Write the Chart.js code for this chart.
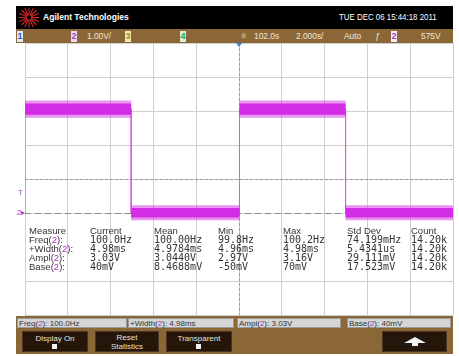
<!DOCTYPE html>
<html><head><meta charset="utf-8">
<script src="https://cdn.jsdelivr.net/npm/chart.js@4.4.0/dist/chart.umd.min.js"></script>
<style>
html,body{margin:0;padding:0;background:#fff;width:459px;height:356px;overflow:hidden;}
#wrap{position:relative;width:459px;height:356px;font-family:"Liberation Sans",Arial,sans-serif;}
#c{position:absolute;left:0;top:0;}
.a{position:absolute;white-space:nowrap;}
.blk{position:absolute;}
.bar{color:#f2e8d4;font-size:9.5px;line-height:12px;top:30px;transform-origin:left center;transform:scaleX(0.88);}
.chb{position:absolute;top:31px;width:6px;height:11px;font-size:9px;line-height:11px;text-align:center;font-weight:bold;}
.hd{font-size:9.5px;line-height:10px;color:#333;}
.mv{font-family:"DejaVu Sans Mono",monospace;font-size:10px;line-height:10px;color:#333;}
.p{color:#b02cc8;}
.box{position:absolute;top:318px;height:10px;background:#d6d6d6;border:1px solid #9a9a9a;font-size:8px;line-height:10px;color:#333;padding-left:1px;box-sizing:border-box;}
.btn{position:absolute;top:331px;height:21px;background:#24160a;border:1px solid #4a3520;box-sizing:border-box;color:#e6e2dc;font-size:8px;line-height:8px;text-align:center;}
.ck{position:absolute;width:5px;height:5px;background:#f4f4f4;left:50%;margin-left:-3px;top:12px;}
</style></head><body>
<div id="wrap">
<canvas id="c" width="459" height="356"></canvas>

<!-- header -->
<div class="blk" style="left:16px;top:6px;width:437px;height:23px;background:#000;"></div>
<svg class="blk" style="left:18px;top:7px" width="22" height="21" viewBox="0 0 22 21">
 <g stroke="#d8262a" stroke-width="1.1" stroke-linecap="round">
  <line x1="11" y1="1" x2="11" y2="20"/><line x1="1" y1="10.5" x2="21" y2="10.5"/>
  <line x1="4" y1="3.5" x2="18" y2="17.5"/><line x1="18" y1="3.5" x2="4" y2="17.5"/>
  <line x1="7" y1="1.5" x2="15" y2="19.5"/><line x1="15" y1="1.5" x2="7" y2="19.5"/>
  <line x1="1.5" y1="6.5" x2="20.5" y2="14.5"/><line x1="1.5" y1="14.5" x2="20.5" y2="6.5"/>
 </g>
 <circle cx="11" cy="10.5" r="2.2" fill="#000"/>
</svg>
<div class="a" style="left:43px;top:11px;color:#fff;font-weight:bold;font-size:9.5px;line-height:12px;transform-origin:left center;transform:scaleX(0.9);">Agilent Technologies</div>
<div class="a" style="left:339px;top:11px;color:#fff;font-size:9.5px;line-height:12px;transform-origin:left center;transform:scaleX(0.83);">TUE DEC 06 15:44:18 2011</div>

<!-- top brown bar -->
<div class="blk" style="left:16px;top:29px;width:437px;height:14px;background:#8b6738;"></div>
<div class="chb" style="left:17px;background:#e2e8f4;color:#3b5cb0;">1</div>
<div class="chb" style="left:71px;background:#eadcf2;color:#a83cc8;">2</div>
<div class="a bar" style="left:87px;">1.00V/</div>
<div class="chb" style="left:125px;background:#f2ecbc;color:#a08a20;">3</div>
<div class="chb" style="left:180px;background:#d8f0d4;color:#34a050;">4</div>
<div class="a bar" style="left:240px;font-family:'DejaVu Sans';font-size:9px;">☼</div>
<div class="a bar" style="left:254px;">102.0s</div>
<div class="a bar" style="left:296px;">2.000s/</div>
<div class="a bar" style="left:344px;">Auto</div>
<div class="a bar" style="left:375px;font-style:italic;">ƒ</div>
<div class="chb" style="left:391px;background:#f4f0f6;color:#a83cc8;">2</div>
<div class="a bar" style="left:421px;">575V</div>

<!-- left markers -->
<div class="a" style="left:18px;top:188px;font-size:8px;line-height:9px;color:#a050b8;">T</div>
<div class="a" style="left:17px;top:208px;font-size:8px;line-height:9px;color:#b030c8;">2▸</div>

<!-- measurement table -->
<div id="tbl"></div>

<!-- bottom -->
<div class="blk" style="left:16px;top:316px;width:437px;height:38px;background:#8b6738;"></div>
<div id="boxes"></div>
<div class="btn" style="left:22px;width:66px;"><div style="margin-top:3px">Display On</div><div class="ck"></div></div>
<div class="btn" style="left:95px;width:64px;"><div style="margin-top:2px">Reset</div><div style="margin-top:1px">Statistics</div></div>
<div class="btn" style="left:166px;width:66px;"><div style="margin-top:3px">Transparent</div><div class="ck"></div></div>
<div class="btn" style="left:382px;width:65px;">
 <svg width="26" height="10" style="margin-top:5px" viewBox="0 0 26 10"><polygon points="13,0 24,6 16,6 16,9 10,9 10,6 2,6" fill="#f4f4f4"/></svg>
</div>
</div>

<script>
// ---- waveform data (time in ms relative to trigger, volts) ----
const traceTime  = [-10, -10, -5.04, -5.04, 0.02, 0.02, 4.98, 4.98, 10];
const traceVolts = [0.0, 3.06, 3.06, 0.0, 0.0, 3.06, 3.06, 0.0, 0.0];
const bandTime   = [-10, -5.04, -5.04, 0.02, 0.02, 4.98, 4.98, 10];
const haloUpper  = [3.31, 3.31, 0.23, 0.23, 3.31, 3.31, 0.23, 0.23];
const haloLower  = [2.80, 2.80, -0.21, -0.21, 2.80, 2.80, -0.21, -0.21];
const coreUpper  = [3.22, 3.22, 0.15, 0.15, 3.22, 3.22, 0.15, 0.15];
const coreLower  = [2.89, 2.89, -0.13, -0.13, 2.89, 2.89, -0.13, -0.13];
// ---- screen scales ----
const timeRange = [-10, 10];   // 2 ms/div, 10 divisions
const voltRange = [-3, 5];     // 1 V/div, 8 divisions
const groundLevel = 0;
const centerVolt = 1;
// ---- measurement table ----
const measHeaders = ['Measure','Current','Mean','Min','Max','Std Dev','Count'];
const measNames   = ['Freq','+Width','Ampl','Base'];
const measCurrent = ['100.0Hz','4.98ms','3.03V','40mV'];
const measMean    = ['100.00Hz','4.9784ms','3.0440V','8.4688mV'];
const measMin     = ['99.8Hz','4.96ms','2.97V','-50mV'];
const measMax     = ['100.2Hz','4.98ms','3.16V','70mV'];
const measStd     = ['74.199mHz','5.4341us','29.111mV','17.523mV'];
const measCount   = ['14.20k','14.20k','14.20k','14.20k'];
const bottomBoxes = [['Freq','100.0Hz'],['+Width','4.98ms'],['Ampl','3.03V'],['Base','40mV']];

// build table
(function(){
  const cols = [29, 90, 154, 218, 283, 347, 411];
  const rowY = [226, 235, 244, 253, 262];
  let h = '';
  measHeaders.forEach((t,i)=>{ h += `<div class="a hd" style="left:${cols[i]}px;top:${rowY[0]}px">${t}</div>`; });
  const valCols = [measCurrent, measMean, measMin, measMax, measStd, measCount];
  measNames.forEach((n,r)=>{
    h += `<div class="a hd" style="left:${cols[0]}px;top:${rowY[r+1]}px">${n}(<span class="p">2</span>):</div>`;
    valCols.forEach((arr,c)=>{ h += `<div class="a mv" style="left:${cols[c+1]}px;top:${rowY[r+1]}px">${arr[r]}</div>`; });
  });
  document.getElementById('tbl').innerHTML = h;
  const bx = [[17,110],[128,106],[237,104],[347,104]];
  let b = '';
  bottomBoxes.forEach((d,i)=>{ b += `<div class="box" style="left:${bx[i][0]}px;width:${bx[i][1]}px">${d[0]}(<span class="p">2</span>): ${d[1]}</div>`; });
  document.getElementById('boxes').innerHTML = b;
})();

const pts = (xs, ys) => xs.map((x,i)=>({x, y: ys[i]}));

const scopeMarks = {
  id: 'scopeMarks',
  beforeDatasetsDraw(chart){
    const {ctx, chartArea:a, scales:{x, y}} = chart;
    ctx.save();
    // center graticule lines
    ctx.strokeStyle = '#9c9c9c'; ctx.lineWidth = 1; ctx.setLineDash([3,2]);
    const yc = Math.round(y.getPixelForValue(centerVolt)) + 0.5;
    ctx.beginPath(); ctx.moveTo(a.left, yc); ctx.lineTo(a.right, yc); ctx.stroke();
    const xc = Math.round(x.getPixelForValue(0)) + 0.5;
    ctx.beginPath(); ctx.moveTo(xc, a.top); ctx.lineTo(xc, a.bottom); ctx.stroke();
    // ground reference line
    ctx.strokeStyle = '#7f8f80'; ctx.setLineDash([6,4]);
    const yg = Math.round(y.getPixelForValue(groundLevel)) + 0.5;
    ctx.beginPath(); ctx.moveTo(a.left, yg); ctx.lineTo(a.right, yg); ctx.stroke();
    ctx.restore();
  },
  afterDraw(chart){
    const {ctx, chartArea:a, scales:{x}} = chart;
    const xc = x.getPixelForValue(0);
    ctx.save();
    ctx.fillStyle = '#3f86d8';
    ctx.beginPath(); ctx.moveTo(xc-3, a.top); ctx.lineTo(xc+3, a.top); ctx.lineTo(xc, a.top+4); ctx.closePath(); ctx.fill();
    ctx.restore();
  }
};

new Chart(document.getElementById('c'), {
  type: 'line',
  data: { datasets: [
    { data: pts(bandTime, haloUpper), borderColor: 'rgba(0,0,0,0)', borderWidth: 0, pointRadius: 0, fill: false },
    { data: pts(bandTime, haloLower), borderColor: 'rgba(0,0,0,0)', borderWidth: 0, pointRadius: 0, fill: '-1', backgroundColor: 'rgba(214,60,230,0.55)' },
    { data: pts(bandTime, coreUpper), borderColor: 'rgba(0,0,0,0)', borderWidth: 0, pointRadius: 0, fill: false },
    { data: pts(bandTime, coreLower), borderColor: 'rgba(0,0,0,0)', borderWidth: 0, pointRadius: 0, fill: '-1', backgroundColor: 'rgb(206,28,226)' },
    { data: pts(traceTime, traceVolts), borderColor: 'rgb(218,90,232)', borderWidth: 1, pointRadius: 0, fill: false, tension: 0 }
  ]},
  options: {
    responsive: false, animation: false, devicePixelRatio: 1,
    layout: { autoPadding: false, padding: { left: 25, top: 43, right: 6, bottom: 41 } },
    plugins: { legend: { display: false }, tooltip: { enabled: false } },
    scales: {
      x: { type: 'linear', min: timeRange[0], max: timeRange[1],
           ticks: { display: false, stepSize: 2 },
           grid: { color: '#cfcfcf', drawTicks: false }, border: { display: false } },
      y: { type: 'linear', min: voltRange[0], max: voltRange[1],
           ticks: { display: false, stepSize: 1 },
           grid: { color: c => (c.tick && c.tick.value === -1) ? 'rgba(0,0,0,0)' : '#cfcfcf', drawTicks: false },
           border: { display: false } }
    }
  },
  plugins: [scopeMarks]
});
</script>
</body></html>
